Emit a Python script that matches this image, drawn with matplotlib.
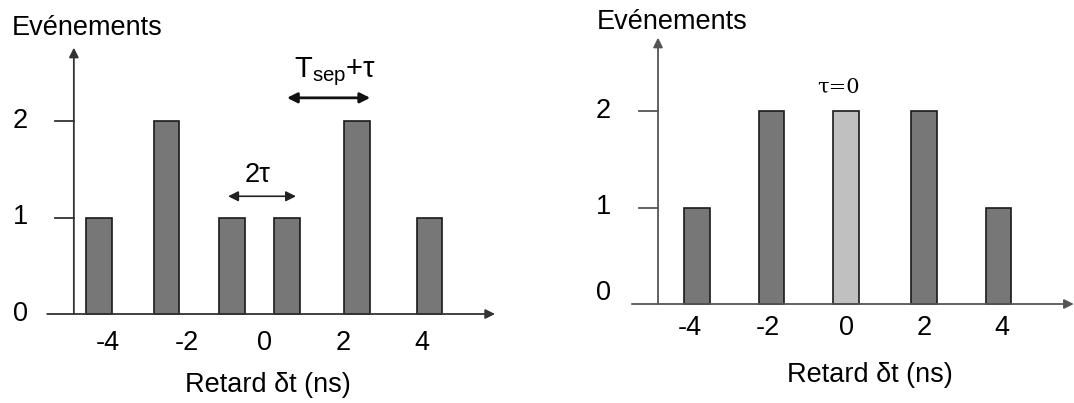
import matplotlib.pyplot as plt

plt.rcParams['font.family'] = ['Liberation Sans', 'DejaVu Sans']
plt.rcParams['mathtext.default'] = 'regular'

# Left panel: two-photon coincidences, distinguishable
left_x = [-4.23, -2.51, -0.85, 0.55, 2.34, 4.19]
left_counts = [1, 2, 1, 1, 2, 1]
left_colors = ['#777777'] * 6

# Right panel: tau = 0
right_x = [-3.82, -1.91, 0.0, 2.0, 3.91]
right_counts = [1, 2, 2, 2, 1]
right_colors = ['#777777', '#777777', '#c0c0c0', '#777777', '#777777']

xticks = [-4, -2, 0, 2, 4]
yticks = [0, 1, 2]
ylabel = "Evénements"
xlabel = "Retard δt (ns)"

W, H = 1074, 403
fig = plt.figure(figsize=(W / 100, H / 100), dpi=100)

FS = 19.5


def make_panel(px0, px1, x0px, ppx, y0px, ppy):
    # axes covering a pixel band, with data coordinates anchored to pixels
    ax = fig.add_axes([px0 / W, 0, (px1 - px0) / W, 1])
    ax.set_xlim((px0 - x0px) / ppx, (px1 - x0px) / ppx)
    ax.set_ylim((y0px - H) / ppy, y0px / ppy)
    ax.axis('off')
    return ax


def draw_axes(ax, axcol, xa0, xa1, yax, ytop, tick0, ylab_x, zero_y, xlab_y,
              title_x, title_y, label_x, label_y):
    ax.annotate('', xy=(xa1, 0), xytext=(xa0, 0),
                arrowprops=dict(arrowstyle='-|>', color=axcol, lw=1.3,
                                mutation_scale=14, shrinkA=0, shrinkB=0))
    ax.annotate('', xy=(yax, ytop), xytext=(yax, 0),
                arrowprops=dict(arrowstyle='-|>', color=axcol, lw=1.3,
                                mutation_scale=14, shrinkA=0, shrinkB=0))
    for v in yticks:
        if v > 0:
            ax.plot([tick0, yax], [v, v], color=axcol, lw=1.3)
        ax.text(ylab_x, v if v > 0 else zero_y, str(v), fontsize=FS,
                ha='center', va='center')
    for t in xticks:
        ax.text(t, xlab_y, str(t), fontsize=FS, ha='center', va='center')
    ax.text(label_x, label_y, xlabel, fontsize=FS, ha='center', va='center')
    ax.text(title_x, title_y, ylabel, fontsize=FS, ha='left', va='center')


# ---- left panel
axL = make_panel(0, 537, 265, 39.25, 314, 96.5)
axL.bar(left_x, left_counts, width=0.66, color=left_colors,
        edgecolor='#1a1a1a', linewidth=1.2, zorder=3)
draw_axes(axL, '#333333', -5.55, 5.86, -4.87, 2.76, -5.35, -6.24, 0.0, -0.30,
          -6.45, 2.96, 0.08, -0.74)
axL.annotate('', xy=(0.79, 1.22), xytext=(-0.94, 1.22),
             arrowprops=dict(arrowstyle='<|-|>', color='#222222', lw=1.2,
                             mutation_scale=15, shrinkA=0, shrinkB=0))
axL.text(-0.18, 1.44, '2τ', fontsize=FS, ha='center', va='center')
axL.annotate('', xy=(2.68, 2.24), xytext=(0.56, 2.24),
             arrowprops=dict(arrowstyle='<|-|>', color='#111111', lw=2,
                             mutation_scale=15, shrinkA=0, shrinkB=0))
axL.text(1.78, 2.51, 'T$_{sep}$+τ', fontsize=21, ha='center', va='center')

# ---- right panel
axR = make_panel(537, 1074, 846, 39.0, 304, 96.5)
axR.bar(right_x, right_counts, width=0.66, color=right_colors,
        edgecolor='#1a1a1a', linewidth=1.2, zorder=3)
draw_axes(axR, '#555555', -5.49, 5.84, -4.82, 2.76, -5.31, -6.23, 0.11, -0.25,
          -6.38, 2.92, 0.62, -0.74)
axR.text(-0.2, 2.25, 'τ=0', fontsize=15, ha='center', va='center',
         family=['DejaVu Serif'])

fig.savefig('out.png', dpi=100)
